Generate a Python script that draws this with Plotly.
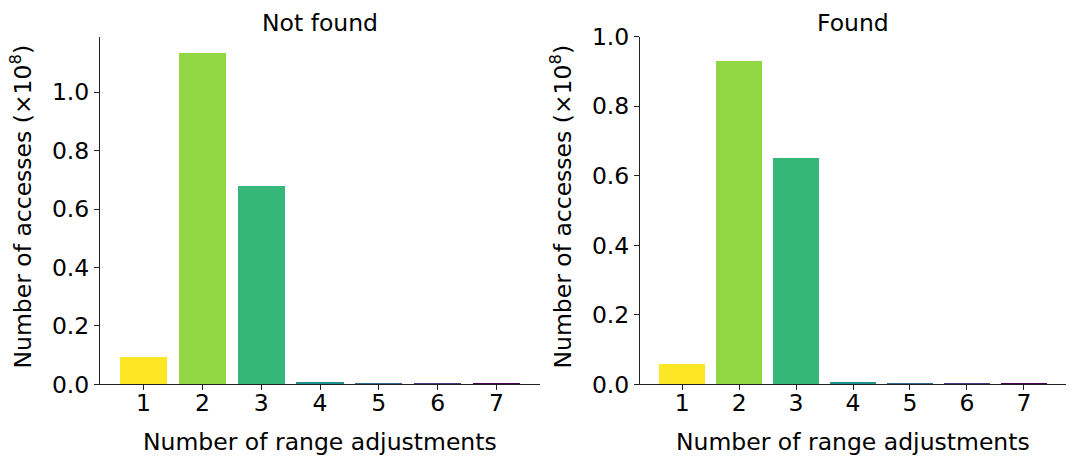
import plotly.graph_objects as go

categories = [1, 2, 3, 4, 5, 6, 7]
not_found = [0.096, 1.134, 0.680, 0.008, 0.004, 0.0035, 0.0035]
found = [0.061, 0.931, 0.653, 0.007, 0.0035, 0.003, 0.003]
colors = ["#fde725", "#90d743", "#35b779", "#21918c", "#31688e", "#443983", "#440154"]
titles = ["Not found", "Found"]
y_ticks_left = [0.0, 0.2, 0.4, 0.6, 0.8, 1.0]
y_ticks_right = [0.0, 0.2, 0.4, 0.6, 0.8, 1.0]

W, H = 1073, 457
FONT = "DejaVu Sans"
FS = 23.5


def fy(p):
    # map desired pixel row to paper fraction (compensating observed vertical scaling)
    yfig = (p - 11.1) / 0.95
    return 1 - yfig / H


fig = go.Figure()
fig.add_trace(go.Bar(x=categories, y=not_found, marker=dict(color=colors, line=dict(width=0)),
                     width=0.8, xaxis="x", yaxis="y", showlegend=False))
fig.add_trace(go.Bar(x=categories, y=found, marker=dict(color=colors, line=dict(width=0)),
                     width=0.8, xaxis="x2", yaxis="y2", showlegend=False))

ydom = [fy(386), fy(34)]
xdom1 = [100 / W, 540 / W]
xdom2 = [640 / W, 1066 / W]

axis_common = dict(showgrid=False, zeroline=False, showline=True, linecolor="#222222", linewidth=1,
                   ticks="outside", ticklen=5, tickcolor="#222222", tickwidth=1,
                   tickfont=dict(family=FONT, size=FS, color="black"))

fig.update_layout(
    width=W, height=H, margin=dict(l=0, r=0, t=0, b=0),
    plot_bgcolor="white", paper_bgcolor="white",
    font=dict(family=FONT, color="black"),
    bargap=0,
    xaxis=dict(domain=xdom1, range=[0.26, 7.74], tickvals=categories, anchor="y",
               ticklabelstandoff=-8, **axis_common),
    yaxis=dict(domain=ydom, range=[0, 1.19], tickvals=y_ticks_left, tickformat=".1f", anchor="x", **axis_common),
    xaxis2=dict(domain=xdom2, range=[0.26, 7.74], tickvals=categories, anchor="y2",
                ticklabelstandoff=-8, **axis_common),
    yaxis2=dict(domain=ydom, range=[0, 1.0], tickvals=y_ticks_right, tickformat=".1f", anchor="x2", **axis_common),
)

anns = []
for dom, t in zip([xdom1, xdom2], titles):
    cx = (dom[0] + dom[1]) / 2
    anns.append(dict(text=t, x=cx, y=fy(20), xref="paper", yref="paper", showarrow=False,
                     font=dict(family=FONT, size=FS), xanchor="center", yanchor="middle"))
    anns.append(dict(text="Number of range adjustments", x=cx, y=fy(444), xref="paper", yref="paper",
                     showarrow=False, font=dict(family=FONT, size=FS), xanchor="center", yanchor="middle"))
for xpx in [22, 562]:
    anns.append(dict(text="Number of accesses (×10<sup>8</sup>)", x=xpx / W, y=fy(206),
                     xref="paper", yref="paper", showarrow=False, textangle=-90,
                     font=dict(family=FONT, size=FS), xanchor="center", yanchor="middle"))
fig.update_layout(annotations=anns)

fig.write_html("out.html")
